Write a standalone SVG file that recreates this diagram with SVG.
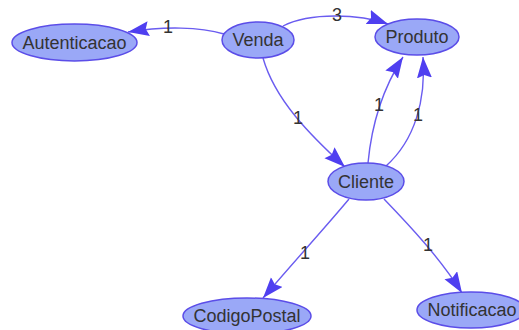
<svg xmlns="http://www.w3.org/2000/svg" width="519" height="330" viewBox="0 0 519 330">
  <style>
    .node ellipse { fill: #9aa8f7; stroke: #5b4de8; stroke-width: 1.5; }
    .node text { font-family: "Liberation Sans", Arial, sans-serif; font-size: 18px; fill: #333333; text-anchor: middle; dominant-baseline: central; }
    .edge { fill: none; stroke: #6a5cf0; stroke-width: 1.4; marker-end: url(#arrow); }
    .elabel { font-family: "Liberation Sans", Arial, sans-serif; font-size: 18px; fill: #333333; text-anchor: middle; dominant-baseline: central; }
  </style>
  <defs>
    <!-- filled arrowhead, tip at the end of each connector -->
    <marker id="arrow" markerUnits="userSpaceOnUse" markerWidth="24" markerHeight="18" refX="21" refY="7.5" orient="auto">
      <path d="M0,0 L21,7.5 L0,15 L3,7.5 z" fill="#4f3ff0"/>
    </marker>
  </defs>
  <rect width="519" height="330" fill="#ffffff"/>

  <g id="connectors">
    <path class="edge" d="M224,34 C200,27 165,26 128,32"/>
    <path class="edge" d="M283,26 C310,12 360,14 388,24"/>
    <path class="edge" d="M263,58 C275,100 310,135 345,167"/>
    <path class="edge" d="M368,163 C372,120 385,85 403,57"/>
    <path class="edge" d="M386,166 C415,140 426,100 423,57"/>
    <path class="edge" d="M349,199 C330,222 300,255 263,298"/>
    <path class="edge" d="M384,199 C410,226 440,258 462,293"/>
    <text class="elabel" x="168" y="27">1</text>
    <text class="elabel" x="337" y="15">3</text>
    <text class="elabel" x="298" y="118">1</text>
    <text class="elabel" x="379" y="105">1</text>
    <text class="elabel" x="418" y="115">1</text>
    <text class="elabel" x="305" y="253">1</text>
    <text class="elabel" x="428" y="245">1</text>
  </g>

  <g id="Autenticacao" class="node">
    <ellipse cx="74.5" cy="42.5" rx="62.5" ry="18.5"/>
    <text x="74.5" y="42.5">Autenticacao</text>
  </g>
  <g id="Venda" class="node">
    <ellipse cx="258" cy="40" rx="36" ry="18"/>
    <text x="258" y="40">Venda</text>
  </g>
  <g id="Produto" class="node">
    <ellipse cx="417" cy="37" rx="42" ry="18"/>
    <text x="417" y="37">Produto</text>
  </g>
  <g id="Cliente" class="node">
    <ellipse cx="366" cy="181.5" rx="38" ry="18.5"/>
    <text x="366" y="181.5">Cliente</text>
  </g>
  <g id="CodigoPostal" class="node">
    <ellipse cx="247" cy="316" rx="64" ry="18"/>
    <text x="247" y="316">CodigoPostal</text>
  </g>
  <g id="Notificacao" class="node">
    <ellipse cx="471" cy="310" rx="54" ry="18"/>
    <text x="472" y="310">Notificacao</text>
  </g>
</svg>
